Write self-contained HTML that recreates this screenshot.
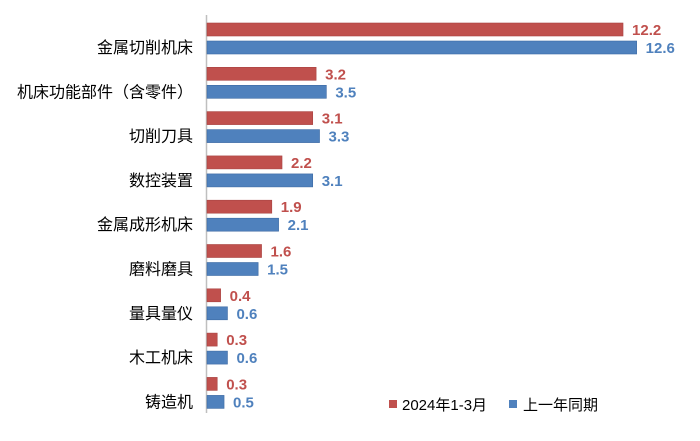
<!DOCTYPE html>
<html><head><meta charset="utf-8"><style>
body{margin:0;background:#fff;width:700px;height:436px;overflow:hidden;font-family:"Liberation Sans","Noto Sans CJK SC",sans-serif}
</style></head><body>
<svg width="700" height="436" xmlns="http://www.w3.org/2000/svg" font-family="Liberation Sans, Noto Sans CJK SC, sans-serif">
<line x1="206.5" y1="15" x2="206.5" y2="413" stroke="#bfbfbf" stroke-width="1.5"/>
<g id="bars"></g>
<rect x="389" y="400" width="8" height="8" fill="#c0504d"/>
<text x="402" y="410" font-size="15" fill="#000">2024年1-3月</text>
<rect x="509" y="400" width="8" height="8" fill="#4f81bd"/>
<text x="523" y="410" font-size="15" fill="#000">上一年同期</text>
</svg>
<script>
var d=[["金属切削机床",12.2,12.6],["机床功能部件（含零件）",3.2,3.5],["切削刀具",3.1,3.3],["数控装置",2.2,3.1],["金属成形机床",1.9,2.1],["磨料磨具",1.6,1.5],["量具量仪",0.4,0.6],["木工机床",0.3,0.6],["铸造机",0.3,0.5]];
var s="",k=34.1,x0=207;
d.forEach(function(r,i){var y=23+i*44.3;
s+='<rect x="'+x0+'" y="'+y+'" width="'+(r[1]*k)+'" height="13" fill="#c0504d" stroke="#a94442" stroke-width="0.6"/>';
s+='<rect x="'+x0+'" y="'+(y+18)+'" width="'+(r[2]*k)+'" height="13" fill="#4f81bd" stroke="#3c6aa3" stroke-width="0.6"/>';
s+='<text x="'+(x0+r[1]*k+9)+'" y="'+(y+12)+'" font-size="15" font-weight="bold" fill="#c0504d">'+r[1].toFixed(1)+'</text>';
s+='<text x="'+(x0+r[2]*k+9)+'" y="'+(y+30)+'" font-size="15" font-weight="bold" fill="#4f81bd">'+r[2].toFixed(1)+'</text>';
s+='<text x="193" y="'+(y+30)+'" font-size="16" text-anchor="end" fill="#000">'+r[0]+'</text>';
});
document.getElementById("bars").innerHTML=s;
</script>
</body></html>
